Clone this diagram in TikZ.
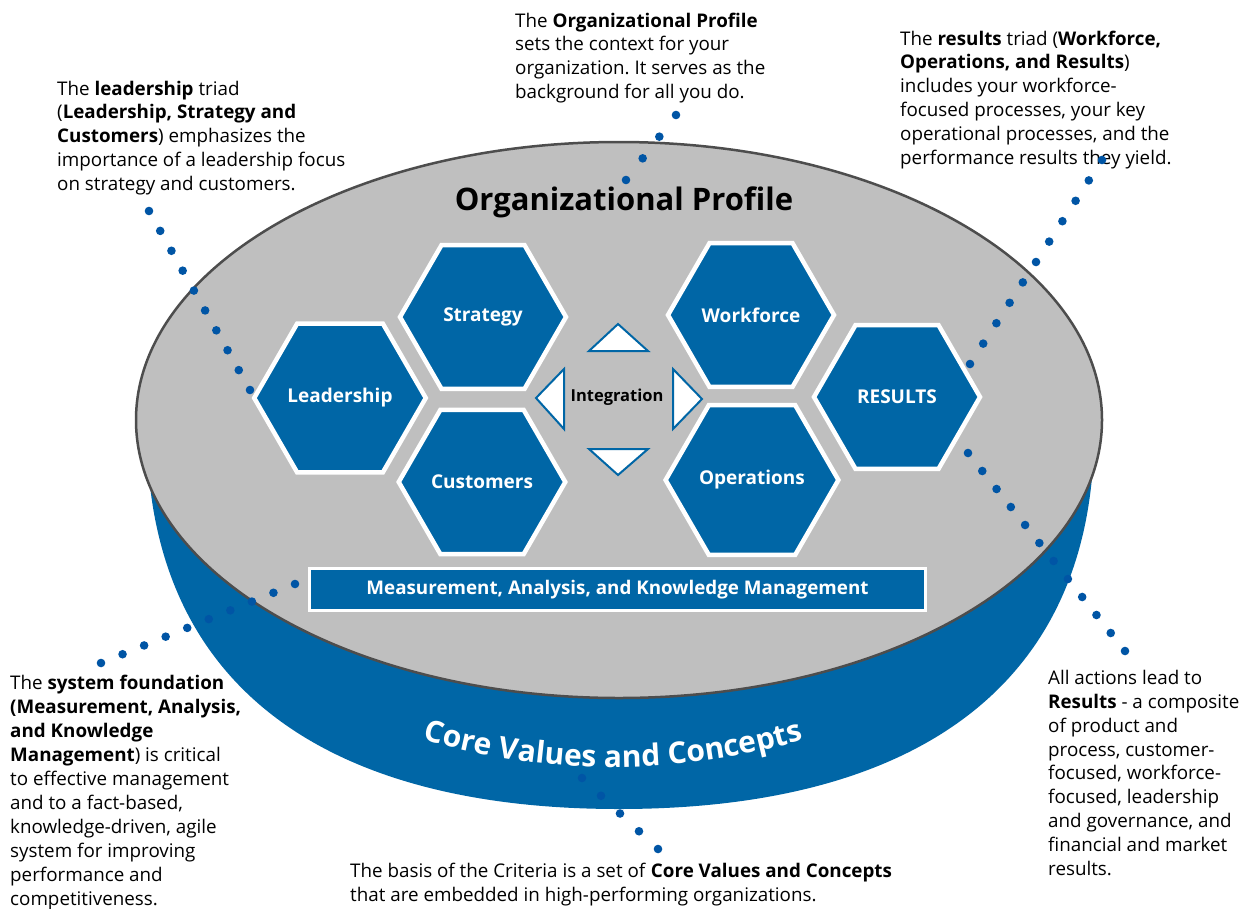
\documentclass[tikz,border=0pt]{standalone}
\usepackage{fontspec}
\setmainfont{Open Sans}
\frenchspacing
\usetikzlibrary{calc,shapes.geometric,decorations.text}
\definecolor{bblue}{HTML}{0066A6}
\definecolor{dotblue}{HTML}{0055A5}
\definecolor{pgray}{HTML}{BFBFBF}
\definecolor{edgegray}{HTML}{4D4D4D}
\begin{document}
\begin{tikzpicture}[x=1pt,y=-1pt,
  hexbox/.style={regular polygon, regular polygon sides=6, minimum size=166pt, inner sep=0pt,
    fill=bblue, draw=white, line width=4.5pt, text=white, font=\bfseries\fontsize{19}{22}\selectfont},
  note/.style={anchor=base west, align=left, inner sep=0pt, font=\fontsize{18.8}{23.9}\selectfont, text=black},
  tri/.style={fill=white, draw=bblue, line width=2pt, line join=miter},
  dotc/.style={fill=dotblue}
]
\useasboundingbox (0,0) rectangle (1250,908);
\fill[white] (0,0) rectangle (1250,908);

% cylinder body
\fill[bblue] (147,420) -- (147,440) .. controls (152,690) and (330,809) .. (619,809)
  .. controls (910,809) and (1090,690) .. (1094,440) -- (1094,420) -- cycle;
% top face
\draw[fill=pgray, draw=edgegray, line width=2.5pt] (619,420) ellipse [x radius=483, y radius=278];

% curved title on the body
\path[decorate, decoration={text along path, text align=center, text color=white,
  text={|\bfseries\fontsize{30}{30}\selectfont|Core Values and Concepts}}]
  (613,89) ++(110:678) arc[start angle=110, end angle=70, radius=678];

\node[font=\bfseries\fontsize{31}{36}\selectfont, inner sep=0pt, anchor=base] (op) at (624,210) {Organizational Profile};

% hexagons
\node[hexbox] (lead) at (340,398) {Leadership};
\node[hexbox] (strat) at (483,317) {Strategy};
\node[hexbox] (cust) at (482,482) {Customers};
\node[hexbox] (work) at (751,315) {Workforce};
\node[hexbox] (oper) at (752,480) {Operations};
\node[hexbox] (res) at (897,397) {RESULTS};

% integration
\filldraw[tri] (618,324) -- (648,351) -- (589,351) -- cycle;
\filldraw[tri] (618,475) -- (648,449) -- (589,449) -- cycle;
\filldraw[tri] (536,398) -- (564,369) -- (564,429) -- cycle;
\filldraw[tri] (702,399) -- (673,369) -- (673,429) -- cycle;
\node[font=\bfseries\fontsize{16.5}{18}\selectfont, inner sep=0pt] (integ) at (617,397) {Integration};

% foundation box
\node[fill=bblue, draw=white, line width=3pt, minimum width=616pt, minimum height=42pt, inner sep=0pt,
  text=white, font=\bfseries\fontsize{18.8}{20}\selectfont] (mak) at (617.5,589.5)
  {Measurement, Analysis, and Knowledge Management};

% annotations (anchored at the baseline of their last line)
\node[note] (tl) at (57,190.6) {The \textbf{leadership} triad\\(\textbf{Leadership, Strategy and}\\\textbf{Customers}) emphasizes the\\importance of a leadership focus\\on strategy and customers.};
\node[note] (tc) at (515,98.7) {The \textbf{Organizational Profile}\\sets the context for your\\organization. It serves as the\\background for all you do.};
\node[note] (tr) at (900,164.5) {The \textbf{results} triad (\textbf{Workforce,}\\\textbf{Operations, and Results})\\includes your workforce-\\focused processes, your key\\operational processes, and the\\performance results they yield.};
\node[note] (bl) at (10,905) {The \textbf{system foundation}\\\textbf{(Measurement, Analysis,}\\\textbf{and Knowledge}\\\textbf{Management}) is critical\\to effective management\\and to a fact-based,\\knowledge-driven, agile\\system for improving\\performance and\\competitiveness.};
\node[note] (bc) at (350,901) {The basis of the Criteria is a set of \textbf{Core Values and Concepts}\\that are embedded in high-performing organizations.};
\node[note] (br) at (1048,875.5) {All actions lead to\\\textbf{Results} - a composite\\of product and\\process, customer-\\focused, workforce-\\focused, leadership\\and governance, and\\financial and market\\results.};

% dotted leaders
\coordinate (a1) at (149,211); \coordinate (a2) at (250,390);
\coordinate (b1) at (676,115); \coordinate (b2) at (626,180);
\coordinate (c1) at (1102,160); \coordinate (c2) at (970,364);
\coordinate (d1) at (968,453); \coordinate (d2) at (1125,651);
\coordinate (e1) at (295,584); \coordinate (e2) at (101,663);
\coordinate (f1) at (582,778); \coordinate (f2) at (658,849);
\foreach \i in {0,...,9} \fill[dotc] ($(a1)!\i/9!(a2)$) circle (4.3);
\foreach \i in {0,...,3} \fill[dotc] ($(b1)!\i/3!(b2)$) circle (4.3);
\foreach \i in {0,...,10} \fill[dotc] ($(c1)!\i/10!(c2)$) circle (4.3);
\foreach \i in {0,...,11} \fill[dotc] ($(d1)!\i/11!(d2)$) circle (4.3);
\foreach \i in {0,...,9} \fill[dotc] ($(e1)!\i/9!(e2)$) circle (4.3);
\foreach \i in {0,...,4} \fill[dotc] ($(f1)!\i/4!(f2)$) circle (4.3);
\end{tikzpicture}
\end{document}
